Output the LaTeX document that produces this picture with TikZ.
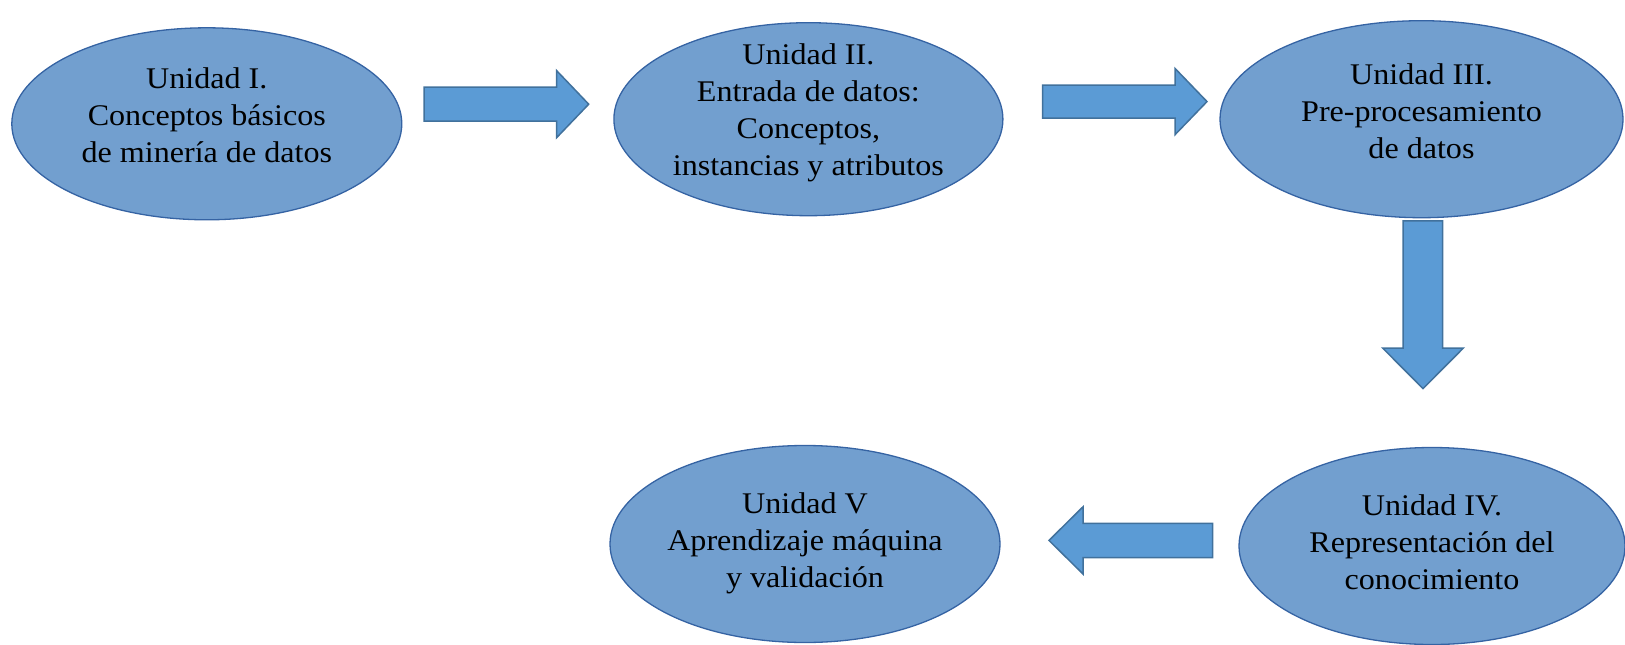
\documentclass[tikz,border=0pt]{standalone}
\usepackage{fontspec}
\setmainfont{Liberation Serif}
\newfontfamily\widefont[FakeStretch=1.07]{Liberation Serif}
\usetikzlibrary{shapes.geometric}
\definecolor{ellfill}{HTML}{729FCF}
\definecolor{elldraw}{HTML}{3563A3}
\definecolor{arrfill}{HTML}{5B9BD5}
\definecolor{arrdraw}{HTML}{41719C}
\tikzset{
  unit/.style={ellipse, fill=ellfill, draw=elldraw, line width=1.3pt, inner sep=0pt},
  lbl/.style={align=center, font=\widefont\fontsize{30}{37}\selectfont, inner sep=0pt},
  blockarrow/.style={fill=arrfill, draw=arrdraw, line width=1.5pt, line join=miter}
}
\begin{document}
\begin{tikzpicture}[x=1pt,y=-1pt]
\useasboundingbox (0,0) rectangle (1625,645);
% ellipses
\node[unit, minimum width=390pt, minimum height=192pt] (e1) at (206.8,123.8) {};
\node[unit, minimum width=389pt, minimum height=193pt] (e2) at (808.4,119.2) {};
\node[unit, minimum width=403pt, minimum height=197pt] (e3) at (1421.5,119.2) {};
\node[unit, minimum width=386pt, minimum height=197pt] (e4) at (1432,546) {};
\node[unit, minimum width=390pt, minimum height=197pt] (e5) at (805,544) {};
% labels
\node[lbl] (t1) at (206.8,115) {Unidad I.\\Conceptos básicos\\de minería de datos};
\node[lbl] (t2) at (808.4,113.3) {Unidad II.\\Entrada de datos:\\Conceptos,\\instancias y atributos};
\node[lbl] (t3) at (1421.5,111) {Unidad III.\\Pre-procesamiento\\de datos};
\node[lbl] (t4) at (1432,542) {Unidad IV.\\Representación del\\conocimiento};
\node[lbl] (t5) at (805,543.5) {Unidad V\\Aprendizaje máquina\\y validación};
% block arrows
\draw[blockarrow] (424,87) -- (556.5,87) -- (556.5,70.5) -- (588.7,104.2) -- (556.5,137.8) -- (556.5,121) -- (424,121) -- cycle;
\draw[blockarrow] (1042.6,85) -- (1175,85) -- (1175,68.4) -- (1207,101.6) -- (1175,134.7) -- (1175,118) -- (1042.6,118) -- cycle;
\draw[blockarrow] (1403,220.8) -- (1442.6,220.8) -- (1442.6,348) -- (1463.4,348) -- (1423,388.6) -- (1382.6,348) -- (1403,348) -- cycle;
\draw[blockarrow] (1212.6,523.4) -- (1083,523.4) -- (1083,506.8) -- (1049,540.4) -- (1083,574) -- (1083,557.6) -- (1212.6,557.6) -- cycle;
\end{tikzpicture}
\end{document}
